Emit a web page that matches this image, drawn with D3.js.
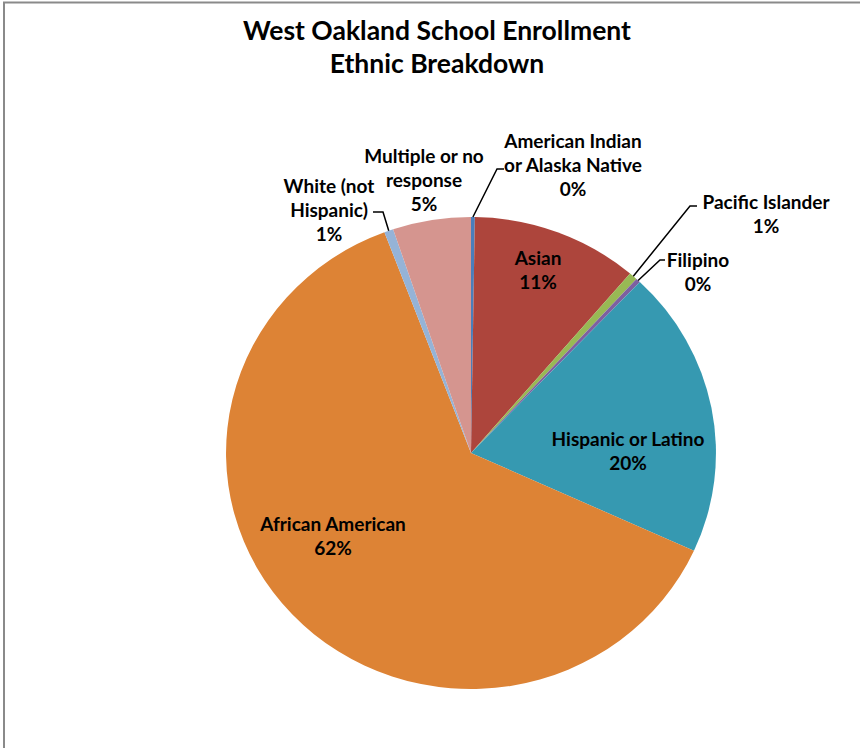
<!DOCTYPE html>
<html>
<head>
<meta charset="utf-8">
<script src="https://cdn.jsdelivr.net/npm/d3@7"></script>
<style>
  html, body { margin: 0; padding: 0; background: #fff; }
  svg { display: block; }
  text { font-family: Lato, "Open Sans", sans-serif; font-weight: bold; fill: #000; }
</style>
</head>
<body>
<svg id="chart" width="860" height="748"></svg>
<script>
// Enrollment share by ethnicity (percent), clockwise from 12 o'clock
const categories = [
  "American Indian or Alaska Native", "Asian", "Pacific Islander", "Filipino",
  "Hispanic or Latino", "African American", "White (not Hispanic)", "Multiple or no response"
];
const shares = [0.25, 11.0, 0.55, 0.3, 19.7, 62.45, 0.6, 5.15];
const sliceColors = ["#4a7ebb", "#ad453c", "#98b954", "#7d60a0", "#3699b1", "#dd8335", "#95b3d7", "#d5958f"];
const labelLines = [
  ["American Indian", "or Alaska Native"], ["Asian"], ["Pacific Islander"], ["Filipino"],
  ["Hispanic or Latino"], ["African American"], ["White (not", "Hispanic)"], ["Multiple or no", "response"]
];
const titleLines = ["West Oakland School Enrollment", "Ethnic Breakdown"];

// Layout
const cx = 471, cy = 453, radius = 236, stretchX = 1.038;
const lineH = 24;
// label anchor (center x, first-line center y) and optional leader knee/end
const labelLayout = [
  { x: 573, y: 140, knee: [497, 169], end: [504, 169] },
  { x: 538, y: 257 },
  { x: 766, y: 201, knee: [690, 206], end: [697, 206] },
  { x: 698, y: 259, knee: [660, 260], end: [665, 260] },
  { x: 628, y: 438 },
  { x: 333, y: 523 },
  { x: 329, y: 185, knee: [383, 212], end: [373, 212] },
  { x: 424, y: 155 }
];

const svg = d3.select("#chart");

// chart frame
svg.append("rect")
  .attr("x", 4).attr("y", 2.5).attr("width", 900).attr("height", 800)
  .attr("fill", "none").attr("stroke", "#8a8a8a").attr("stroke-width", 2);

// title
svg.append("g").selectAll("text").data(titleLines).join("text")
  .attr("x", 437).attr("y", (d, i) => 40 + i * 33)
  .attr("text-anchor", "middle")
  .style("font-size", "26.5px")
  .text(d => d);

const data = categories.map((c, i) => ({ name: c, value: shares[i], color: sliceColors[i], lines: labelLines[i], layout: labelLayout[i] }));
const total = d3.sum(shares);

const pie = d3.pie().sort(null).value(d => d.value).startAngle(0).endAngle(2 * Math.PI);
const arcs = pie(data);
const arc = d3.arc().innerRadius(0).outerRadius(radius);

const pieG = svg.append("g").attr("transform", `translate(${cx},${cy}) scale(${stretchX},1)`);
pieG.selectAll("path").data(arcs).join("path")
  .attr("d", arc)
  .attr("fill", d => d.data.color);

// point on the (stretched) pie edge at a given angle
function edgePoint(a, r) {
  return [cx + stretchX * r * Math.sin(a), cy - r * Math.cos(a)];
}

// leader lines
const leaders = arcs.filter(d => d.data.layout.knee);
svg.append("g").selectAll("path").data(leaders).join("path")
  .attr("d", d => {
    const mid = (d.startAngle + d.endAngle) / 2;
    const p = edgePoint(mid, radius);
    return d3.line()([p, d.data.layout.knee, d.data.layout.end]);
  })
  .attr("fill", "none").attr("stroke", "#000").attr("stroke-width", 1.5);

// data labels
const labels = svg.append("g").selectAll("g").data(arcs).join("g");
labels.each(function(d) {
  const g = d3.select(this);
  const L = d.data.layout;
  const rows = d.data.lines.concat([Math.round(d.data.value / total * 100) + "%"]);
  g.selectAll("text").data(rows).join("text")
    .attr("x", L.x).attr("y", (t, i) => L.y + i * lineH)
    .attr("text-anchor", "middle")
    .attr("dominant-baseline", "central")
    .style("font-size", "19px")
    .text(t => t);
});
</script>
</body>
</html>
